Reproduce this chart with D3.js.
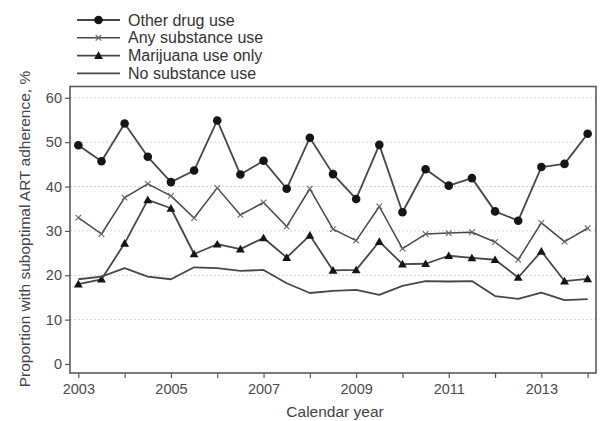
<!DOCTYPE html>
<html>
<head>
<meta charset="utf-8">
<script src="https://cdn.jsdelivr.net/npm/d3@7"></script>
<style>
  body { margin: 0; background: #fff; }
  text { font-family: "Liberation Sans", Arial, sans-serif; fill: #444; }
</style>
</head>
<body>
<svg id="chart" width="600" height="421"></svg>
<script>
// half-year time points, 2003 .. 2014
const years = [2003, 2003.5, 2004, 2004.5, 2005, 2005.5, 2006, 2006.5, 2007, 2007.5, 2008, 2008.5,
               2009, 2009.5, 2010, 2010.5, 2011, 2011.5, 2012, 2012.5, 2013, 2013.5, 2014];

const otherDrug = [49.3, 45.7, 54.2, 46.7, 41.0, 43.6, 54.9, 42.7, 45.8, 39.5, 51.0, 42.8,
                   37.2, 49.4, 34.2, 43.9, 40.2, 41.9, 34.4, 32.3, 44.4, 45.1, 51.9];
const anySubstance = [33.0, 29.3, 37.5, 40.6, 37.9, 32.9, 39.7, 33.6, 36.4, 31.0, 39.5, 30.4,
                      27.8, 35.5, 26.0, 29.3, 29.5, 29.7, 27.5, 23.5, 31.8, 27.6, 30.6];
const marijuana = [18.0, 19.1, 27.2, 37.0, 35.1, 24.8, 27.0, 25.9, 28.4, 24.0, 29.0, 21.1,
                   21.2, 27.6, 22.5, 22.6, 24.4, 23.9, 23.5, 19.5, 25.4, 18.7, 19.2];
const noSubstance = [19.1, 19.7, 21.6, 19.7, 19.1, 21.8, 21.6, 21.0, 21.2, 18.2, 16.0, 16.5,
                     16.7, 15.6, 17.6, 18.7, 18.6, 18.7, 15.3, 14.7, 16.1, 14.4, 14.6];

const seriesNames = ["Other drug use", "Any substance use", "Marijuana use only", "No substance use"];
const seriesMarkers = ["circle", "cross", "triangle", "none"];
const seriesValues = [otherDrug, anySubstance, marijuana, noSubstance];

const xTicks = [2003, 2004, 2005, 2006, 2007, 2008, 2009, 2010, 2011, 2012, 2013, 2014];
const xTickLabels = ["2003", "", "2005", "", "2007", "", "2009", "", "2011", "", "2013", ""];
const yTicks = [0, 10, 20, 30, 40, 50, 60];

const svg = d3.select("#chart");
const box = { left: 70, right: 596, top: 86.5, bottom: 373 };
const ink = "#474747";

const x = d3.scaleLinear().domain([2002.82, 2014.18]).range([box.left, box.right]);
const y = d3.scaleLinear().domain([-2.03, 62.55]).range([box.bottom, box.top]);

// gridlines
svg.append("g")
    .selectAll("line")
    .data(yTicks.filter(d => d > 0))
    .join("line")
    .attr("x1", box.left).attr("x2", box.right)
    .attr("y1", d => y(d)).attr("y2", d => y(d))
    .style("stroke", "#d4d4d4")
    .style("stroke-width", 1)
    .style("stroke-dasharray", "2,2");

// axes
const xAxis = svg.append("g")
    .attr("transform", `translate(0,${box.bottom})`)
    .call(d3.axisBottom(x).tickValues(xTicks).tickSize(5).tickPadding(6)
        .tickFormat((d, i) => xTickLabels[i]));
const yAxis = svg.append("g")
    .attr("transform", `translate(${box.left},0)`)
    .call(d3.axisLeft(y).tickValues(yTicks).tickSize(5).tickPadding(3));
[xAxis, yAxis].forEach(g => {
    g.select(".domain").remove();
    g.selectAll("line").style("stroke", "#555").style("stroke-width", 1.2);
    g.selectAll("text").style("font-size", "14.5px").style("fill", "#4a4a4a")
        .attr("font-family", null);
});

// frame
svg.append("rect")
    .attr("x", box.left).attr("y", box.top)
    .attr("width", box.right - box.left).attr("height", box.bottom - box.top)
    .style("fill", "none")
    .style("stroke", "#5a5a5a")
    .style("stroke-width", 1.6);

// axis titles
svg.append("text")
    .attr("x", (box.left + box.right) / 2 + 2)
    .attr("y", 417)
    .attr("text-anchor", "middle")
    .style("font-size", "15.5px")
    .text("Calendar year");
svg.append("text")
    .attr("transform", "translate(30,229) rotate(-90)")
    .attr("text-anchor", "middle")
    .style("font-size", "15.5px")
    .text("Proportion with suboptimal ART adherence, %");

/** draws a marker of the given type at (cx, cy) into group g */
function drawMarker(g, type, cx, cy) {
    if (type === "circle") {
        g.append("circle").attr("cx", cx).attr("cy", cy).attr("r", 4.3)
            .style("fill", "#151515");
    } else if (type === "triangle") {
        g.append("path")
            .attr("d", d3.symbol(d3.symbolTriangle, 34)())
            .attr("transform", `translate(${cx},${cy + 0.8})`)
            .style("fill", "#151515");
    } else if (type === "cross") {
        const s = 2.8;
        g.append("path")
            .attr("d", `M${cx - s},${cy - s}L${cx + s},${cy + s}M${cx - s},${cy + s}L${cx + s},${cy - s}`)
            .style("stroke", "#666").style("stroke-width", 1.1).style("fill", "none");
    }
}

// series lines and markers
const line = d3.line().x((d, i) => x(years[i])).y(d => y(d));
seriesValues.forEach((vals, k) => {
    const g = svg.append("g");
    g.append("path")
        .attr("d", line(vals))
        .style("fill", "none")
        .style("stroke", ink)
        .style("stroke-width", k === 1 ? 1.5 : 1.8)
        .style("stroke-linejoin", "round");
    vals.forEach((v, i) => drawMarker(g, seriesMarkers[k], x(years[i]), y(v)));
});

// legend
const legend = svg.append("g");
seriesNames.forEach((name, k) => {
    const ly = 20 + k * 17.8;
    legend.append("line")
        .attr("x1", 77).attr("x2", 120).attr("y1", ly).attr("y2", ly)
        .style("stroke", ink).style("stroke-width", k === 1 ? 1.5 : 1.8);
    drawMarker(legend, seriesMarkers[k], 98.5, ly);
    legend.append("text")
        .attr("x", 128).attr("y", ly + 5.5)
        .style("font-size", "16px")
        .style("fill", "#333")
        .text(name);
});
</script>
</body>
</html>
